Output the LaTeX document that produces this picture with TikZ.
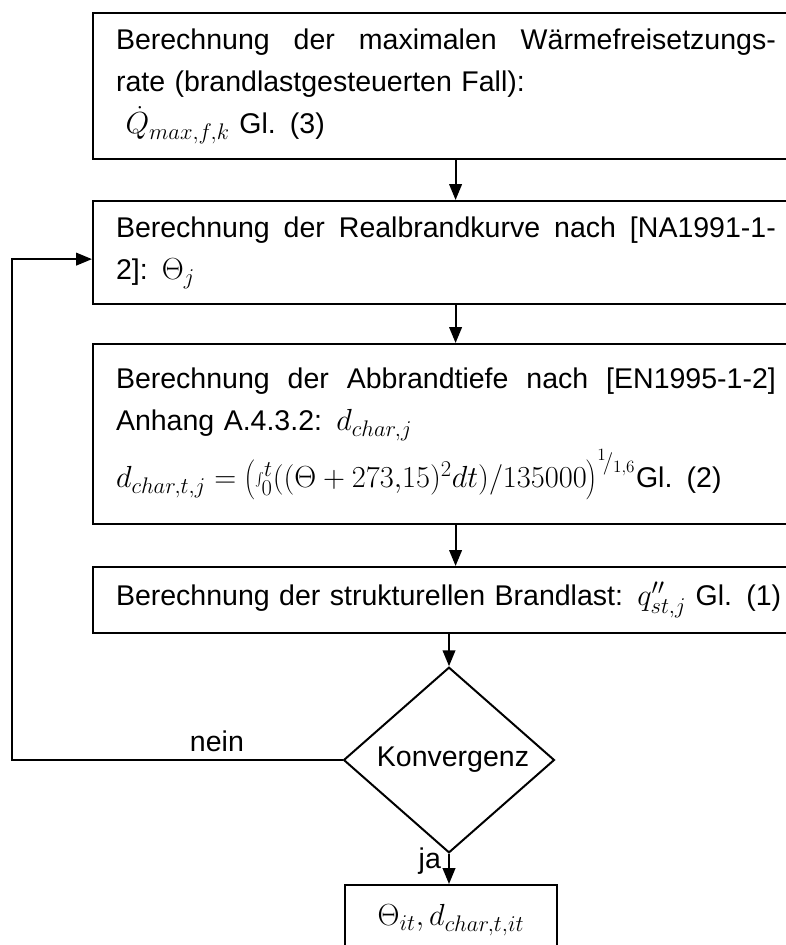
\documentclass[tikz,border=0pt]{standalone}
\usepackage{fix-cm}
\usepackage{fontspec}
\setmainfont{Liberation Sans}
\DeclareMathSizes{21.5}{23}{17}{13}
\usetikzlibrary{positioning, arrows.meta, shapes.geometric}

\begin{document}
\begin{tikzpicture}[
  x=0.0265cm, y=-0.0265cm,
  font=\fontsize{21.5}{32}\selectfont,
  calcbox/.style={draw, line width=1.5pt, anchor=north west, align=left,
    text width=18cm, inner xsep=0.61cm, inner ysep=0pt},
  decide/.style={draw, diamond, line width=1.5pt, minimum width=5.59cm,
    minimum height=4.61cm, inner sep=0pt},
  result/.style={draw, line width=1.5pt, anchor=north, minimum width=5.62cm,
    minimum height=1.86cm, inner sep=0pt},
  flow/.style={-{Triangle[length=12pt, width=9.5pt]}, line width=1.5pt}
]
\useasboundingbox (0,0) rectangle (786,945);
\clip (0,0) rectangle (786,945);

% the calculation chain
\node[calcbox, minimum height=3.87cm] (b1) at (92,12)
  {\makebox[17.49cm][l]{Berechnung\hfill der\hfill maximalen\hfill Wärmefreisetzungs-}\\
   rate (brandlastgesteuerten Fall):\\
   \ $\dot{Q}_{max,f,k}$ Gl. (3)};
\node[calcbox, minimum height=2.73cm] (b2) at (92,200)
  {\makebox[17.49cm][l]{Berechnung\hfill der\hfill Realbrandkurve\hfill nach\hfill [NA1991-1-}\\
   2]: $\Theta_j$};
\node[calcbox, minimum height=4.77cm] (b3) at (92,343)
  {\makebox[17.49cm][l]{Berechnung\hfill der\hfill Abbrandtiefe\hfill nach\hfill [EN1995-1-2]}\\
   Anhang A.4.3.2: $d_{char,j}$\\[6pt]
   $d_{char,t,j}=\left(\int_0^t((\Theta+273{,}15)^2dt)/135000\right)^{{}^{1}\!/_{1{,}6}}$Gl. (2)};
\node[calcbox, minimum height=1.75cm] (b4) at (92,566)
  {Berechnung der strukturellen Brandlast: $q''_{st,j}$ Gl. (1)};

% convergence check and result
\node[decide] (conv) at (449,760) {\ Konvergenz};
\node[result] (res) at (451,884) {$\Theta_{it}, d_{char,t,it}$};

\coordinate (turn) at (12,760);

\draw[flow] (b1) -- (b2);
\draw[flow] (b2) -- (b3);
\draw[flow] (b3) -- (b4);
\draw[flow] (b4.south -| conv.north) -- (conv.north);
\draw[flow] (conv.west) -- node[above, pos=0.38, yshift=2pt] {nein} (turn) |- ([yshift=-5pt]b2.west);
\draw[flow] (conv.south) -- node[left, yshift=6pt, xshift=-2pt] {ja} (conv.south |- res.north);

\end{tikzpicture}
\end{document}
